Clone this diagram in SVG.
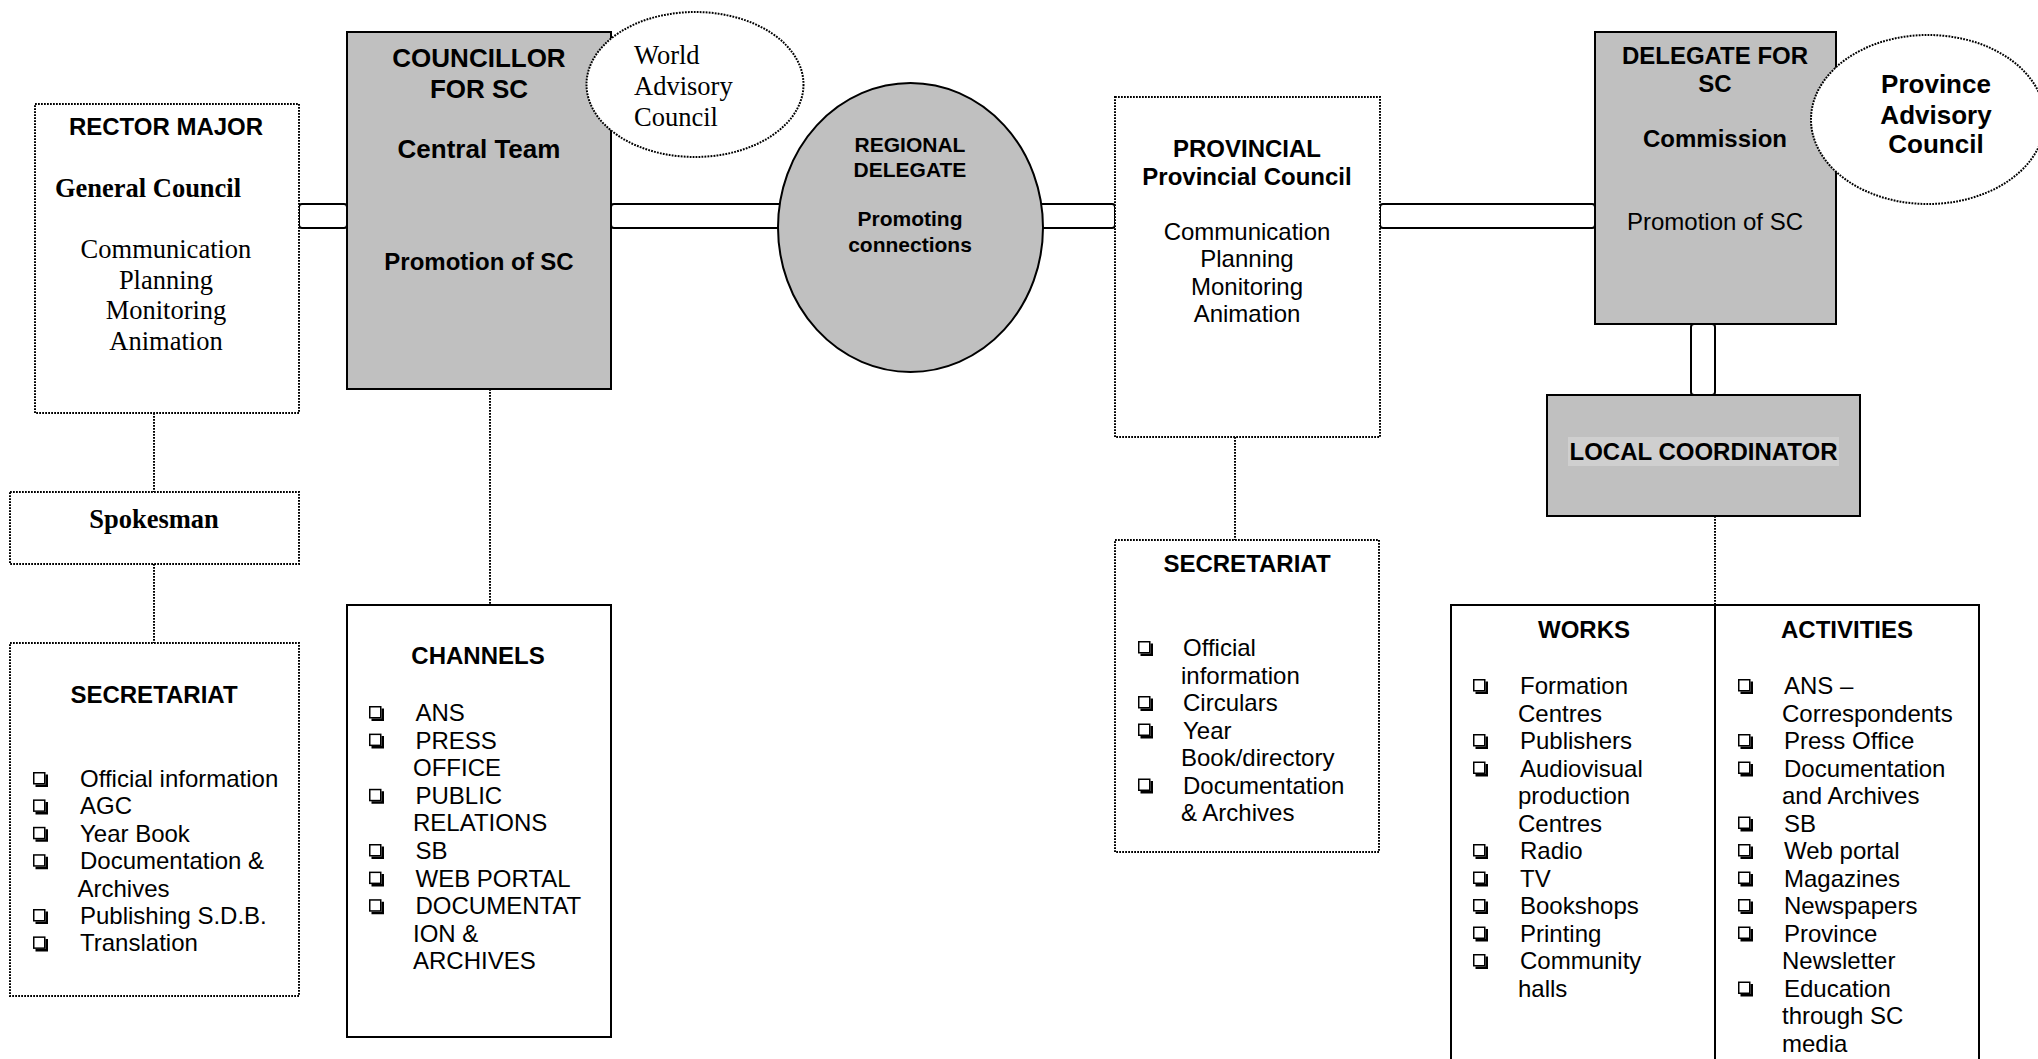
<svg xmlns="http://www.w3.org/2000/svg" xmlns:xlink="http://www.w3.org/1999/xlink" width="2038" height="1059" viewBox="0 0 2038 1059">
<style>
.dot{fill:#fff;stroke:#000;stroke-width:2;stroke-dasharray:1.8 1.2}
.dline{fill:none;stroke:#000;stroke-width:2;stroke-dasharray:1.8 1.2}
.solid{fill:#fff;stroke:#000;stroke-width:2}
.gray{fill:#c0c0c0;stroke:#000;stroke-width:2}
.conn{fill:#fff;stroke:#000;stroke-width:2}
text{font-family:"Liberation Sans",Arial,sans-serif;fill:#000}
.s{font-size:24px}
.b{font-size:24px;font-weight:bold}
.m{text-anchor:middle}
.ser{font-family:"Liberation Serif","Times New Roman",serif;font-size:26.5px}
.serb{font-family:"Liberation Serif","Times New Roman",serif;font-size:26.5px;font-weight:bold}
</style>
<defs>
<g id="cb">
<rect x="0.75" y="0.75" width="11" height="11" fill="#fff" stroke="#000" stroke-width="1.5"/>
<path d="M12.5,2.5 h2.5 v12.5 h-12.5 v-2.5 h10 z" fill="#000"/>
</g>
</defs>

<g id="connectors">
<rect class="conn" x="299" y="204" width="48" height="24" rx="3"/>
<rect class="conn" x="611" y="204" width="176" height="24" rx="3"/>
<rect class="conn" x="1035" y="204" width="80" height="24" rx="3"/>
<rect class="conn" x="1380" y="204" width="215" height="24" rx="3"/>
<rect class="conn" x="1691" y="324" width="24" height="71" rx="3"/>
<line class="dline" x1="154" y1="413" x2="154" y2="492"/>
<line class="dline" x1="154" y1="564" x2="154" y2="643"/>
<line class="dline" x1="490" y1="389" x2="490" y2="605"/>
<line class="dline" x1="1235" y1="437" x2="1235" y2="540"/>
<line class="dline" x1="1715" y1="516" x2="1715" y2="605"/>
</g>

<g id="rector-major">
<rect class="dot" x="35" y="104" width="264" height="309"/>
<text class="b m" x="166" y="135">RECTOR MAJOR</text>
<text class="serb m" x="148" y="197">General Council</text>
<text class="ser m" x="166" y="258">Communication</text>
<text class="ser m" x="166" y="288.5">Planning</text>
<text class="ser m" x="166" y="319">Monitoring</text>
<text class="ser m" x="166" y="349.5">Animation</text>
</g>

<g id="spokesman">
<rect class="dot" x="10" y="492" width="289" height="72"/>
<text class="serb m" x="154" y="528">Spokesman</text>
</g>

<g id="secretariat-central">
<rect class="dot" x="10" y="643" width="289" height="353"/>
<text class="b m" x="154" y="703">SECRETARIAT</text>
<use xlink:href="#cb" x="33" y="772"/>
<use xlink:href="#cb" x="33" y="799.4"/>
<use xlink:href="#cb" x="33" y="826.8"/>
<use xlink:href="#cb" x="33" y="854.2"/>
<use xlink:href="#cb" x="33" y="909"/>
<use xlink:href="#cb" x="33" y="936.4"/>
<text class="s" x="80" y="787">Official information</text>
<text class="s" x="80" y="814.4">AGC</text>
<text class="s" x="80" y="841.8">Year Book</text>
<text class="s" x="80" y="869.2">Documentation &amp;</text>
<text class="s" x="77.5" y="896.6">Archives</text>
<text class="s" x="80" y="924">Publishing S.D.B.</text>
<text class="s" x="80" y="951.4">Translation</text>
</g>

<g id="councillor">
<rect class="gray" x="347" y="32" width="264" height="357"/>
<text class="m" x="479" y="67" style="font-size:26px;font-weight:bold">COUNCILLOR</text>
<text class="m" x="479" y="98" style="font-size:26px;font-weight:bold">FOR SC</text>
<text class="m" x="479" y="158" style="font-size:26px;font-weight:bold">Central Team</text>
<text class="b m" x="479" y="270">Promotion of SC</text>
</g>

<g id="world-advisory-council">
<ellipse class="dot" cx="695" cy="84.5" rx="108.5" ry="72.5"/>
<text class="ser" x="634" y="64">World</text>
<text class="ser" x="634" y="95">Advisory</text>
<text class="ser" x="634" y="126">Council</text>
</g>

<g id="channels">
<rect class="solid" x="347" y="605" width="264" height="432"/>
<text class="b m" x="478" y="664">CHANNELS</text>
<use xlink:href="#cb" x="369" y="706"/>
<use xlink:href="#cb" x="369" y="733.6"/>
<use xlink:href="#cb" x="369" y="788.8"/>
<use xlink:href="#cb" x="369" y="844"/>
<use xlink:href="#cb" x="369" y="871.6"/>
<use xlink:href="#cb" x="369" y="899.2"/>
<text class="s" x="415.5" y="721">ANS</text>
<text class="s" x="415.5" y="748.6">PRESS</text>
<text class="s" x="413" y="776.2">OFFICE</text>
<text class="s" x="415.5" y="803.8">PUBLIC</text>
<text class="s" x="413" y="831.4">RELATIONS</text>
<text class="s" x="415.5" y="859">SB</text>
<text class="s" x="415.5" y="886.6">WEB PORTAL</text>
<text class="s" x="415.5" y="914.2">DOCUMENTAT</text>
<text class="s" x="413" y="941.8">ION &amp;</text>
<text class="s" x="413" y="969.4">ARCHIVES</text>
</g>

<g id="regional-delegate">
<ellipse class="gray" cx="910.5" cy="227.5" rx="132.5" ry="144.5"/>
<text class="m" x="910" y="152" style="font-size:21px;font-weight:bold">REGIONAL</text>
<text class="m" x="910" y="177" style="font-size:21px;font-weight:bold">DELEGATE</text>
<text class="m" x="910" y="226" style="font-size:21px;font-weight:bold">Promoting</text>
<text class="m" x="910" y="252" style="font-size:21px;font-weight:bold">connections</text>
</g>

<g id="provincial">
<rect class="dot" x="1115" y="97" width="265" height="340"/>
<text class="b m" x="1247" y="157">PROVINCIAL</text>
<text class="b m" x="1247" y="185">Provincial Council</text>
<text class="s m" x="1247" y="240">Communication</text>
<text class="s m" x="1247" y="267">Planning</text>
<text class="s m" x="1247" y="295">Monitoring</text>
<text class="s m" x="1247" y="322">Animation</text>
</g>

<g id="secretariat-provincial">
<rect class="dot" x="1115" y="540" width="264" height="312"/>
<text class="b m" x="1247" y="572">SECRETARIAT</text>
<use xlink:href="#cb" x="1138" y="641"/>
<use xlink:href="#cb" x="1138" y="696"/>
<use xlink:href="#cb" x="1138" y="723.5"/>
<use xlink:href="#cb" x="1138" y="778.5"/>
<text class="s" x="1183" y="656">Official</text>
<text class="s" x="1181" y="683.5">information</text>
<text class="s" x="1183" y="711">Circulars</text>
<text class="s" x="1183" y="738.5">Year</text>
<text class="s" x="1181" y="766">Book/directory</text>
<text class="s" x="1183" y="793.5">Documentation</text>
<text class="s" x="1181" y="821">&amp; Archives</text>
</g>

<g id="delegate-for-sc">
<rect class="gray" x="1595" y="32" width="241" height="292"/>
<text class="b m" x="1715" y="64">DELEGATE FOR</text>
<text class="b m" x="1715" y="92">SC</text>
<text class="b m" x="1715" y="147">Commission</text>
<text class="s m" x="1715" y="230">Promotion of SC</text>
</g>

<g id="province-advisory-council">
<ellipse class="dot" cx="1928" cy="119.5" rx="117" ry="84.5"/>
<text class="m" x="1936" y="93" style="font-size:26px;font-weight:bold">Province</text>
<text class="m" x="1936" y="124" style="font-size:26px;font-weight:bold">Advisory</text>
<text class="m" x="1936" y="153" style="font-size:26px;font-weight:bold">Council</text>
</g>

<g id="local-coordinator">
<rect class="gray" x="1547" y="395" width="313" height="121"/>
<rect x="1568" y="437" width="271" height="29" fill="#cfcfcf"/>
<text class="b m" x="1703.5" y="460">LOCAL COORDINATOR</text>
</g>

<g id="works-activities">
<rect class="solid" x="1451" y="605" width="528" height="480"/>
<line x1="1715" y1="605" x2="1715" y2="1085" stroke="#000" stroke-width="2"/>
<text class="b m" x="1584" y="638">WORKS</text>
<text class="b m" x="1847" y="638">ACTIVITIES</text>
<use xlink:href="#cb" x="1473" y="679"/>
<use xlink:href="#cb" x="1473" y="734"/>
<use xlink:href="#cb" x="1473" y="761.5"/>
<use xlink:href="#cb" x="1473" y="844"/>
<use xlink:href="#cb" x="1473" y="871.5"/>
<use xlink:href="#cb" x="1473" y="899"/>
<use xlink:href="#cb" x="1473" y="926.5"/>
<use xlink:href="#cb" x="1473" y="954"/>
<text class="s" x="1520" y="694">Formation</text>
<text class="s" x="1518" y="721.5">Centres</text>
<text class="s" x="1520" y="749">Publishers</text>
<text class="s" x="1520" y="776.5">Audiovisual</text>
<text class="s" x="1518" y="804">production</text>
<text class="s" x="1518" y="831.5">Centres</text>
<text class="s" x="1520" y="859">Radio</text>
<text class="s" x="1520" y="886.5">TV</text>
<text class="s" x="1520" y="914">Bookshops</text>
<text class="s" x="1520" y="941.5">Printing</text>
<text class="s" x="1520" y="969">Community</text>
<text class="s" x="1518" y="996.5">halls</text>
<use xlink:href="#cb" x="1738" y="679"/>
<use xlink:href="#cb" x="1738" y="734"/>
<use xlink:href="#cb" x="1738" y="761.5"/>
<use xlink:href="#cb" x="1738" y="816.5"/>
<use xlink:href="#cb" x="1738" y="844"/>
<use xlink:href="#cb" x="1738" y="871.5"/>
<use xlink:href="#cb" x="1738" y="899"/>
<use xlink:href="#cb" x="1738" y="926.5"/>
<use xlink:href="#cb" x="1738" y="981.5"/>
<text class="s" x="1784" y="694">ANS –</text>
<text class="s" x="1782" y="721.5">Correspondents</text>
<text class="s" x="1784" y="749">Press Office</text>
<text class="s" x="1784" y="776.5">Documentation</text>
<text class="s" x="1782" y="804">and Archives</text>
<text class="s" x="1784" y="831.5">SB</text>
<text class="s" x="1784" y="859">Web portal</text>
<text class="s" x="1784" y="886.5">Magazines</text>
<text class="s" x="1784" y="914">Newspapers</text>
<text class="s" x="1784" y="941.5">Province</text>
<text class="s" x="1782" y="969">Newsletter</text>
<text class="s" x="1784" y="996.5">Education</text>
<text class="s" x="1782" y="1024">through SC</text>
<text class="s" x="1782" y="1051.5">media</text>
</g>
</svg>
